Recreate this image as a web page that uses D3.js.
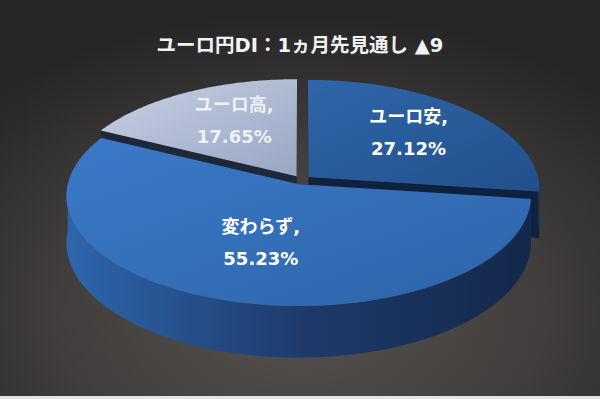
<!DOCTYPE html>
<html>
<head>
<meta charset="utf-8">
<script src="https://cdn.jsdelivr.net/npm/d3@7"></script>
<style>
  html, body { margin: 0; padding: 0; background: #2a2a2a; }
  svg { display: block; }
</style>
</head>
<body>
<svg id="chart"></svg>
<script>
const categories = ['ユーロ安', '変わらず', 'ユーロ高'];
const values = [27.12, 55.23, 17.65];
const chartTitle = 'ユーロ円DI：1ヵ月先見通し ▲9';

const width = 600;
const height = 399;

// 3d pie projection (normalised radius 1, mild perspective)
const cx = 301.5, cy = 180;
const A = 230, B = 108, K = 0.105, H = 46;
const explode = 0.041;
const labelR = 0.58;

const styles = {
  'ユーロ安': { top: ['#2f66aa', '#224f8b'], face: '#0f213f', wall: ['#1b3a68', '#12284a'], label: '#ffffff' },
  '変わらず': { top: ['#3b7ac8', '#2d64a9'], face: '#1a3560', wall: ['#2e66ad', '#1e3b6c', '#13284a'], label: '#ffffff' },
  'ユーロ高': { top: ['#c8d0e3', '#98a6c4'], face: '#1e2839', wall: ['#4a5672', '#2a3550'], label: '#eef1f7' }
};

const svg = d3.select('#chart')
  .attr('width', width)
  .attr('height', height)
  .attr('viewBox', `0 0 ${width} ${height}`);

const defs = svg.append('defs');

const bg = defs.append('radialGradient')
  .attr('id', 'bg')
  .attr('cx', '50%').attr('cy', '78%').attr('r', '75%');
bg.append('stop').attr('offset', 0).attr('stop-color', '#57524f');
bg.append('stop').attr('offset', 0.55).attr('stop-color', '#403d3c');
bg.append('stop').attr('offset', 1).attr('stop-color', '#262626');

svg.append('rect')
  .attr('width', width)
  .attr('height', height)
  .attr('fill', 'url(#bg)');

svg.append('rect')
  .attr('y', height - 3)
  .attr('width', width)
  .attr('height', 3)
  .attr('fill', '#e4e4e4');

svg.append('text')
  .attr('x', width / 2)
  .attr('y', 52)
  .attr('text-anchor', 'middle')
  .attr('fill', '#f2f2f2')
  .attr('font-family', '"DejaVu Sans", "Noto Sans CJK JP", sans-serif')
  .attr('font-weight', 'bold')
  .attr('font-size', 19.5)
  .text(chartTitle);

const pie = d3.pie().sort(null).value(d => d.value);
const slices = pie(categories.map((c, i) => ({ name: c, value: values[i] })));

slices.forEach(s => {
  const mid = (s.startAngle + s.endAngle) / 2;
  s.ox = explode * Math.sin(mid);
  s.oz = explode * Math.cos(mid);
  s.mid = mid;
});

const proj = (s, r, a, down) => {
  const X = r * Math.sin(a) + s.ox;
  const Z = r * Math.cos(a) + s.oz;
  const k = 1 / (1 + K * Z);
  return [cx + A * X * k, cy - B * Z * k + H * down * k];
};

const arcPts = (s, a0, a1, down) => {
  const n = Math.max(2, Math.ceil(Math.abs(a1 - a0) / 0.01));
  return d3.range(n + 1).map(i => proj(s, 1, a0 + (a1 - a0) * i / n, down));
};

const line = d3.line();

const addLinear = (id, stops, x2, y2) => {
  const g = defs.append('linearGradient')
    .attr('id', id)
    .attr('x1', 0).attr('y1', 0).attr('x2', x2).attr('y2', y2);
  stops.forEach((c, i) => {
    g.append('stop')
      .attr('offset', i / (stops.length - 1))
      .attr('stop-color', c);
  });
};

// back slices first, the big front slice last
const order = ['ユーロ高', 'ユーロ安', '変わらず'];

order.forEach(name => {
  const s = slices.find(d => d.data.name === name);
  const st = styles[name];
  const id = 's' + s.index;
  addLinear(id + 'top', st.top, 1, 1);
  addLinear(id + 'wall', st.wall, 1, 0);

  const g = svg.append('g');

  // radial cut faces
  [s.startAngle, s.endAngle].forEach(a => {
    const pts = [proj(s, 0, a, 0), proj(s, 1, a, 0), proj(s, 1, a, 1), proj(s, 0, a, 1)];
    g.append('path')
      .attr('d', line(pts) + 'Z')
      .attr('fill', st.face);
  });

  // outer wall on the front half
  const w0 = Math.max(s.startAngle, Math.PI / 2);
  const w1 = Math.min(s.endAngle, Math.PI * 1.5);
  if (w1 > w0) {
    const pts = arcPts(s, w0, w1, 0).concat(arcPts(s, w1, w0, 1));
    g.append('path')
      .attr('d', line(pts) + 'Z')
      .attr('fill', `url(#${id}wall)`);
  }

  // top face
  const topPts = [proj(s, 0, 0, 0)].concat(arcPts(s, s.startAngle, s.endAngle, 0));
  g.append('path')
    .attr('d', line(topPts) + 'Z')
    .attr('fill', `url(#${id}top)`);
});

// data labels
const fmt = d3.format('.2f');
slices.forEach(s => {
  const [lx, ly] = proj(s, labelR, s.mid, 0);
  const t = svg.append('text')
    .attr('text-anchor', 'middle')
    .attr('fill', styles[s.data.name].label)
    .attr('font-family', '"DejaVu Sans", "Noto Sans CJK JP", sans-serif')
    .attr('font-weight', 'bold')
    .attr('font-size', 18);
  t.append('tspan')
    .attr('x', lx + 4)
    .attr('y', ly - 15)
    .text(s.data.name + ',');
  t.append('tspan')
    .attr('x', lx + 4)
    .attr('y', ly + 17)
    .text(fmt(s.data.value) + '%');
});
</script>
</body>
</html>
